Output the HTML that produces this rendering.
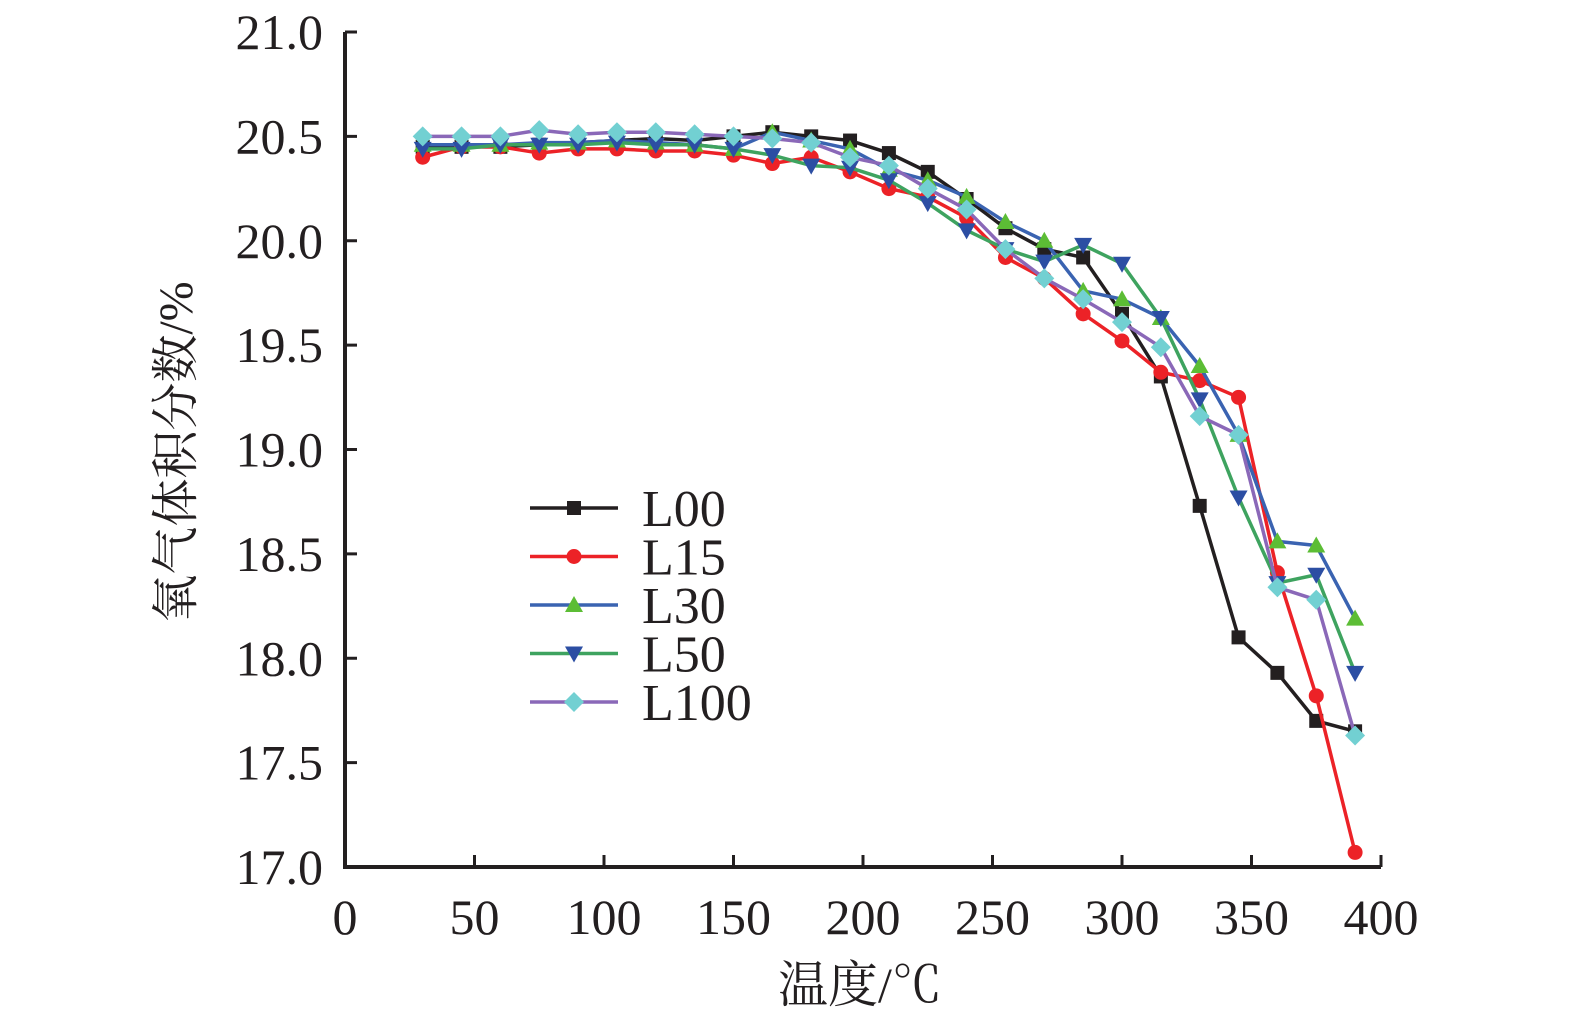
<!DOCTYPE html>
<html><head><meta charset="utf-8">
<style>
html,body{margin:0;padding:0;background:#fff;}
svg{display:block;font-family:"Liberation Serif","Noto Serif CJK SC",serif;}
</style></head>
<body>
<svg id="chart" width="1575" height="1024" viewBox="0 0 1575 1024" xmlns="http://www.w3.org/2000/svg">
<g id="axes"></g>
<g id="series"></g>
<g id="legend"></g>
<text x="860" y="1002" font-size="50" text-anchor="middle" fill="#231f20">温度/℃</text>
<text transform="translate(192,452) rotate(-90)" font-size="48" text-anchor="middle" fill="#231f20">氧气体积分数/%</text>
</svg>
<script>
const temps = [30,45,60,75,90,105,120,135,150,165,180,195,210,225,240,255,270,285,300,315,330,345,360,375,390];
const L00  = [20.45,20.45,20.45,20.46,20.47,20.48,20.49,20.48,20.50,20.52,20.50,20.48,20.42,20.33,20.20,20.06,19.96,19.92,19.65,19.35,18.73,18.10,17.93,17.70,17.65];
const L15  = [20.40,20.45,20.45,20.42,20.44,20.44,20.43,20.43,20.41,20.37,20.40,20.33,20.25,20.21,20.11,19.92,19.82,19.65,19.52,19.37,19.33,19.25,18.41,17.82,17.07];
const L30  = [20.46,20.46,20.46,20.47,20.47,20.48,20.47,20.46,20.44,20.52,20.48,20.44,20.34,20.29,20.21,20.09,20.00,19.76,19.72,19.63,19.40,19.07,18.56,18.54,18.19];
const L50  = [20.44,20.44,20.46,20.46,20.46,20.47,20.46,20.46,20.44,20.41,20.36,20.35,20.29,20.18,20.05,19.96,19.90,19.98,19.89,19.63,19.24,18.77,18.36,18.40,17.93];
const L100 = [20.50,20.50,20.50,20.53,20.51,20.52,20.52,20.51,20.50,20.49,20.47,20.40,20.36,20.25,20.15,19.96,19.82,19.72,19.61,19.49,19.16,19.07,18.34,18.28,17.63];
const xTicks = [0,50,100,150,200,250,300,350,400];
const yTicks = [17.0,17.5,18.0,18.5,19.0,19.5,20.0,20.5,21.0];
const seriesNames = ["L00","L15","L30","L50","L100"];

const NS="http://www.w3.org/2000/svg";
const X0=345,X1=1381,Y0=867,Y1=32;
const xs=v=>X0+(v-0)/(400-0)*(X1-X0);
const ys=v=>Y0-(v-17)/(21-17)*(Y0-Y1);
function mk(tag,attrs,parent){const e=document.createElementNS(NS,tag);for(const k in attrs)e.setAttribute(k,attrs[k]);parent.appendChild(e);return e;}
const axes=document.getElementById('axes');
const ink="#231f20";
let a=mk('path',{d:`M${X0},${Y1} V${Y0} H${X1}`,fill:'none',stroke:ink,'stroke-width':4},axes);


xTicks.forEach(t=>{
  const x=xs(t);
  const tk=mk('line',{x1:x,x2:x,y1:Y0,y2:Y0-12,stroke:ink,'stroke-width':3},axes);
  
  
  const tx=mk('text',{x:x,y:934,'font-size':50,'text-anchor':'middle',fill:ink},axes);
  tx.textContent=t;
  
  
});
yTicks.forEach(t=>{
  const y=ys(t);
  const tk=mk('line',{x1:X0,x2:X0+12,y1:y,y2:y,stroke:ink,'stroke-width':3},axes);
  
  
  const tx=mk('text',{x:323,y:y+17,'font-size':50,'text-anchor':'end',fill:ink},axes);
  tx.textContent=t.toFixed(1);
  
  
});
const styles=[
 {line:"#231f20",mark:"#231f20",shape:"square"},
 {line:"#ec2227",mark:"#ec2227",shape:"circle"},
 {line:"#3a63b1",mark:"#5cbd35",shape:"up"},
 {line:"#3ea35f",mark:"#2c4ea3",shape:"down"},
 {line:"#8a68b8",mark:"#72d0d2",shape:"diamond"}
];
function marker(shape,x,y,c,parent){
  let e;
  if(shape==="square") e=mk('rect',{x:x-7,y:y-7,width:14,height:14,fill:c},parent);
  else if(shape==="circle") e=mk('circle',{cx:x,cy:y,r:7.5,fill:c},parent);
  else if(shape==="up") e=mk('polygon',{points:`${x},${y-9} ${x+9},${y+7} ${x-9},${y+7}`,fill:c},parent);
  else if(shape==="down") e=mk('polygon',{points:`${x},${y+9} ${x+9},${y-7} ${x-9},${y-7}`,fill:c},parent);
  else e=mk('polygon',{points:`${x},${y-10} ${x+10},${y} ${x},${y+10} ${x-10},${y}`,fill:c},parent);
  return e;
}
const data=[L00,L15,L30,L50,L100];
const sg=document.getElementById('series');
data.forEach((arr,i)=>{
  const g=mk('g',{},sg);
  
  
  const pts=arr.map((v,j)=>xs(temps[j])+','+ys(v)).join(' ');
  const pl=mk('polyline',{points:pts,fill:'none',stroke:styles[i].line,'stroke-width':3.5,'stroke-linejoin':'round'},g);
  
  
  arr.forEach((v,j)=>{
    const m=marker(styles[i].shape,xs(temps[j]),ys(v),styles[i].mark,g);
    
    
  });
});
const lg=document.getElementById('legend');
seriesNames.forEach((n,i)=>{
  const y=508+i*48.5;
  const g=mk('g',{},lg);
  
  
  mk('line',{x1:530,x2:618,y1:y,y2:y,stroke:styles[i].line,'stroke-width':3.5},g);
  marker(styles[i].shape,574,y,styles[i].mark,g);
  const t=mk('text',{x:642,y:y+18,'font-size':52,fill:ink},g);
  t.textContent=n;
});
</script>
</body></html>
